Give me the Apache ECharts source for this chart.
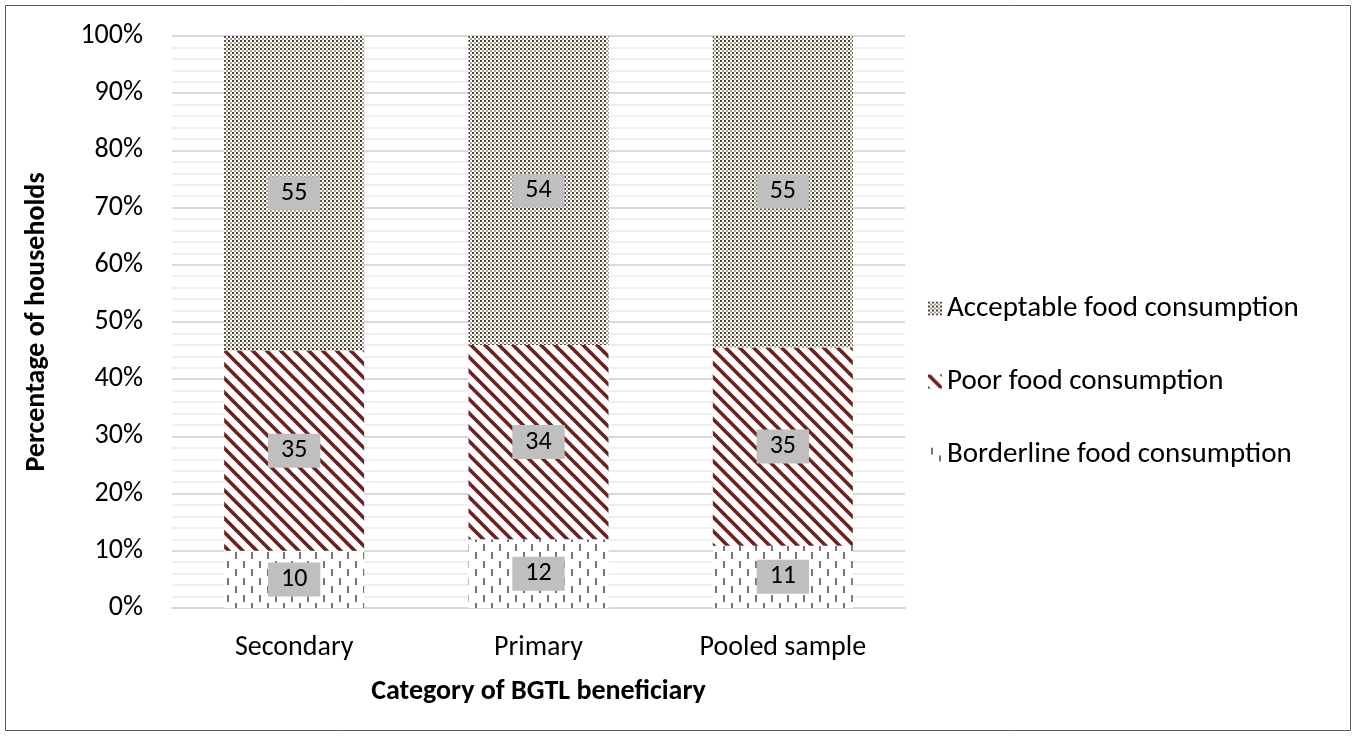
<!DOCTYPE html>
<html>
<head>
<meta charset="utf-8">
<script src="https://cdn.jsdelivr.net/npm/echarts@6/dist/echarts.min.js"></script>
<style>
  html, body { margin: 0; padding: 0; background: #fff; }
  #chart { width: 1356px; height: 736px; }
</style>
</head>
<body>
<div id="chart"></div>
<script>
// Food consumption score groups by BGTL beneficiary category (% of households)
const categories = ['Secondary', 'Primary', 'Pooled sample'];
const borderline = [10, 12, 11];
const poor = [35, 34, 35];
const acceptable = [55, 54, 55];
const yTicks = [0, 10, 20, 30, 40, 50, 60, 70, 80, 90, 100];

const FONT = 'Carlito, Calibri, Lato, sans-serif';

// ---- fill patterns ----
function tile(w, h, draw) {
  const c = document.createElement('canvas');
  c.width = w; c.height = h;
  const g = c.getContext('2d');
  g.fillStyle = '#ffffff';
  g.fillRect(0, 0, w, h);
  draw(g);
  return { image: c, repeat: 'repeat' };
}

// dotted checker texture: dark dots with lighter dots between them
const dotPattern = tile(8, 8, g => {
  g.fillStyle = '#4a4330';
  [[0, 0], [4, 0], [0, 4], [4, 4]].forEach(([x, y]) => g.fillRect(x, y, 2, 2));
  g.fillStyle = '#a8a290';
  [[2, 2], [6, 2], [2, 6], [6, 6]].forEach(([x, y]) => g.fillRect(x, y, 2, 2));
});

// wide downward diagonal stripes
const stripePattern = tile(14, 14, g => {
  g.strokeStyle = '#701f1f';
  g.lineWidth = 3.6;
  [-14, 0, 14].forEach(c => {
    g.beginPath();
    g.moveTo(-4, -4 + c);
    g.lineTo(18, 18 + c);
    g.stroke();
  });
});

// staggered vertical dashes
const dashPattern = tile(16, 17, g => {
  g.fillStyle = '#767676';
  g.fillRect(3, 0, 2, 7);
  g.fillRect(11, 8, 2, 7);
});

// shares of each category total (100% stacked)
function share(arr, i) {
  const total = borderline[i] + poor[i] + acceptable[i];
  return arr[i] / total * 100;
}
function seriesData(arr) {
  return arr.map((v, i) => ({ value: share(arr, i), raw: v }));
}

function labelStyle() {
  return {
    show: true,
    position: 'inside',
    formatter: p => '{v|' + p.data.raw + '}',
    backgroundColor: '#bfbfbf',
    padding: [4, 13, 4, 13],
    rich: {
      v: { fontFamily: FONT, fontSize: 26, lineHeight: 26, color: '#000' }
    }
  };
}

function bar(name, arr, pattern) {
  return {
    name: name,
    type: 'bar',
    stack: 'fcs',
    barWidth: 140,
    data: seriesData(arr),
    itemStyle: { color: pattern },
    label: labelStyle(),
    emphasis: { disabled: true }
  };
}

const chart = echarts.init(document.getElementById('chart'), null, { renderer: 'canvas' });
chart.setOption({
  animation: false,
  backgroundColor: '#ffffff',
  grid: { left: 172, right: 451, top: 36, bottom: 128, containLabel: false },
  graphic: [{
    type: 'rect',
    shape: { x: 5.5, y: 5.5, width: 1345, height: 725 },
    style: { fill: 'none', stroke: '#595959', lineWidth: 1 },
    silent: true,
    z: 100
  }],
  legend: {
    orient: 'vertical',
    left: 928,
    top: 294,
    padding: 0,
    itemWidth: 14,
    itemHeight: 14,
    itemGap: 44,
    icon: 'rect',
    textStyle: { fontFamily: FONT, fontSize: 29, color: '#000' },
    data: ['Acceptable food consumption', 'Poor food consumption', 'Borderline food consumption']
  },
  xAxis: {
    type: 'category',
    data: categories,
    axisTick: { show: false },
    axisLine: { show: true, lineStyle: { color: '#d9d9d9', width: 2 } },
    axisLabel: { fontFamily: FONT, fontSize: 28, color: '#000', margin: 26 },
    name: 'Category of BGTL beneficiary',
    nameLocation: 'middle',
    nameGap: 70,
    nameTextStyle: { fontFamily: FONT, fontSize: 28, fontWeight: 'bold', color: '#000' }
  },
  yAxis: {
    type: 'value',
    min: yTicks[0],
    max: yTicks[yTicks.length - 1],
    interval: 10,
    axisLine: { show: false },
    axisTick: { show: false },
    axisLabel: { fontFamily: FONT, fontSize: 28, color: '#000', margin: 29, formatter: '{value}%' },
    splitLine: { show: true, lineStyle: { color: '#d9d9d9', width: 2 } },
    minorTick: { show: false, splitNumber: 5 },
    minorSplitLine: { show: true, lineStyle: { color: '#efefef', width: 2 } },
    name: 'Percentage of households',
    nameLocation: 'middle',
    nameGap: 121,
    nameTextStyle: { fontFamily: FONT, fontSize: 28, fontWeight: 'bold', color: '#000' }
  },
  series: [
    bar('Borderline food consumption', borderline, dashPattern),
    bar('Poor food consumption', poor, stripePattern),
    bar('Acceptable food consumption', acceptable, dotPattern)
  ]
});
</script>
</body>
</html>
